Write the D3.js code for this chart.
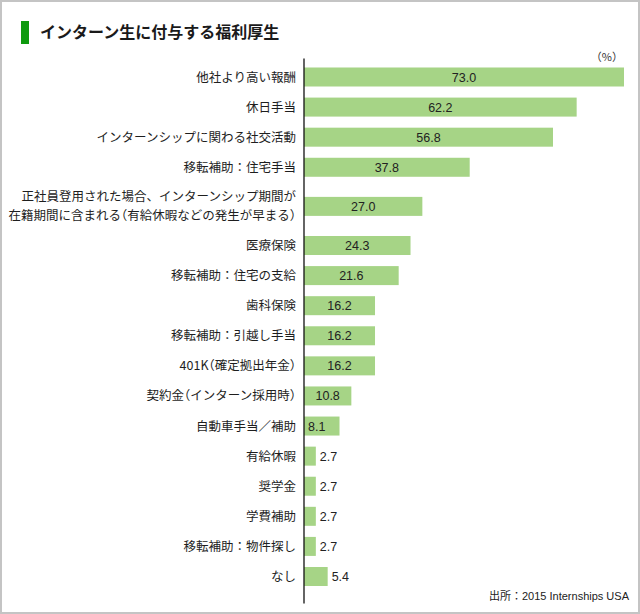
<!DOCTYPE html>
<html><head><meta charset="utf-8">
<script src="https://cdn.jsdelivr.net/npm/d3@7"></script>
<style>
html,body{margin:0;padding:0;background:#fff;}
svg{display:block;}
.hw{font-feature-settings:"halt";}
</style></head>
<body>
<svg id="c" width="640" height="614"></svg>
<script>
const title = "インターン生に付与する福利厚生";
const categories = [
  ["他社より高い報酬"],
  ["休日手当"],
  ["インターンシップに関わる社交活動"],
  ["移転補助：住宅手当"],
  ["正社員登用された場合、インターンシップ期間が", "在籍期間に含まれる（有給休暇などの発生が早まる）"],
  ["医療保険"],
  ["移転補助：住宅の支給"],
  ["歯科保険"],
  ["移転補助：引越し手当"],
  ["401K（確定拠出年金）"],
  ["契約金（インターン採用時）"],
  ["自動車手当／補助"],
  ["有給休暇"],
  ["奨学金"],
  ["学費補助"],
  ["移転補助：物件探し"],
  ["なし"]
];
const values = [73.0, 62.2, 56.8, 37.8, 27.0, 24.3, 21.6, 16.2, 16.2, 16.2, 10.8, 8.1, 2.7, 2.7, 2.7, 2.7, 5.4];
const unitLabel = "（%）";
const sourceText = "出所：2015 Internships USA";

const svg = d3.select("#c");
const W = 640, H = 614;
const jp = "'Noto Sans CJK JP','Noto Sans',sans-serif";
const num = "'Liberation Sans',Arial,sans-serif";

// frame
svg.append("rect").attr("x",1).attr("y",1).attr("width",W-2).attr("height",H-2)
  .attr("fill","#fff").attr("stroke","#c4c4c4").attr("stroke-width",2);

// title
svg.append("rect").attr("x",21).attr("y",21).attr("width",8).attr("height",23).attr("fill","#0e9a0e");
svg.append("text").attr("x",40).attr("y",38).attr("font-family",jp).attr("font-weight","bold")
  .attr("font-size",16).attr("fill","#1a1a1a").text(title);

// row positions: multi-line labels take extra room
const rowIdx = [];
let acc = 0;
categories.forEach((c,i)=>{
  const extra = (c.length-1)*0.3;
  acc += (i===0?0:1) + extra;
  rowIdx.push(acc);
  acc += extra;
});
const x0 = 304;
const x = d3.scaleLinear().domain([0,73]).range([x0, 624]);
const y = d3.scaleLinear().domain([0, rowIdx[rowIdx.length-1]]).range([67.5, 567]);
const bh = 19;

const g = svg.append("g");
g.selectAll("rect.bar").data(values).join("rect").attr("class","bar")
  .attr("x", x0).attr("y",(d,i)=>y(rowIdx[i])).attr("width",d=>x(d)-x0).attr("height",bh)
  .attr("fill","#a6d486");

// value labels
g.selectAll("text.val").data(values).join("text").attr("class","val")
  .attr("font-family",num).attr("font-size",12.5).attr("fill","#222")
  .attr("y",(d,i)=>y(rowIdx[i])+bh/2+4.5)
  .attr("x",d=>{const w=x(d)-x0; return w>40 ? x0+w/2 : (w>30 ? x0+4 : x(d)+4);})
  .attr("text-anchor",d=>{const w=x(d)-x0; return w>40 ? "middle":"start";})
  .text(d=>d.toFixed(1));

// category labels (parentheses set half-width like the original typesetting)
function splitParens(s){
  return s.split(/([（）])/).filter(p=>p.length);
}
categories.forEach((c,i)=>{
  const cy = y(rowIdx[i])+bh/2;
  const lh = 19;
  c.forEach((line,j)=>{
    const t = g.append("text").attr("class","cat")
      .attr("font-family",jp).attr("font-size",12.5).attr("fill","#1e1e1e").attr("text-anchor","end")
      .attr("x",296).attr("y", cy + (j-(c.length-1)/2)*lh + 4.5);
    splitParens(line).forEach(p=>{
      const ts = t.append("tspan").text(p);
      if (p==="（"||p==="）") ts.attr("class","hw");
    });
  });
});

// axis line
const yAxis = d3.axisLeft(d3.scaleLinear().range([58,603])).ticks(0).tickSize(0);
svg.append("g").attr("transform",`translate(${x0-0.5},0)`).call(yAxis)
  .call(s=>s.select(".domain").attr("stroke","#111").attr("stroke-width",1.3));

// unit & source
svg.append("text").attr("x",623).attr("y",61).attr("text-anchor","end").attr("font-family",jp)
  .attr("font-size",11).attr("fill","#333").text(unitLabel);
svg.append("text").attr("x",629).attr("y",600).attr("text-anchor","end")
  .attr("font-family","'Liberation Sans','Noto Sans CJK JP',sans-serif")
  .attr("font-size",11).attr("fill","#222").text(sourceText);
</script>
</body></html>
